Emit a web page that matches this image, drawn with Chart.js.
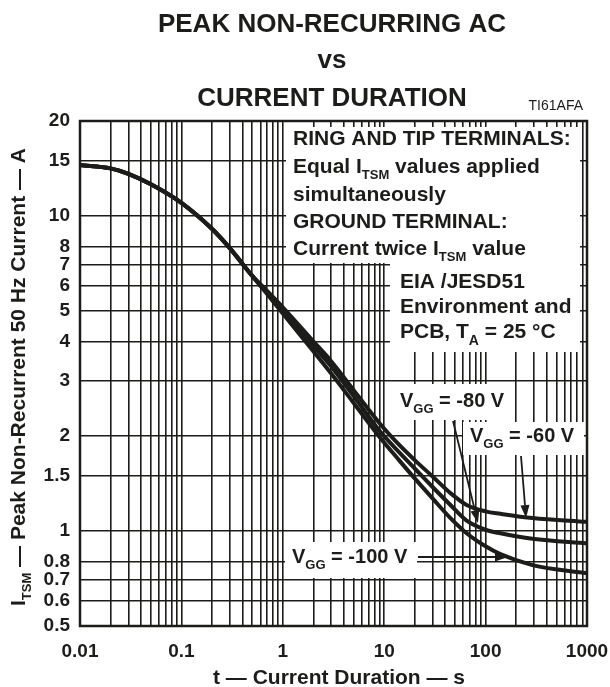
<!DOCTYPE html>
<html><head><meta charset="utf-8">
<script src="https://cdn.jsdelivr.net/npm/chart.js@4"></script>
<style>html,body{margin:0;padding:0;background:#fff}#c{display:block}</style>
</head><body>
<canvas id="c" width="610" height="687"></canvas>
<script>
// ---- data ----
const durations = [0.01,0.02,0.03,0.05,0.1,0.2,0.3,0.5,0.7,1,2,3,5,9,14,20,30,45,65,100,140,290,1000];
const vgg60  = [14.5,14.15,13.6,12.6,11.0,9.1,7.9,6.45,5.78,5.13,4.00,3.46,2.80,2.20,1.88,1.68,1.49,1.32,1.21,1.155,1.135,1.10,1.07];
const vgg80  = [14.5,14.15,13.6,12.6,11.0,9.1,7.9,6.45,5.72,5.02,3.87,3.33,2.68,2.08,1.78,1.58,1.38,1.21,1.08,1.01,0.984,0.945,0.914];
const vgg100 = [14.5,14.15,13.6,12.6,11.0,9.1,7.9,6.45,5.65,4.90,3.72,3.16,2.55,1.99,1.68,1.47,1.27,1.10,0.985,0.895,0.845,0.78,0.735];
const xLabelValues = [0.01,0.1,1,10,100,1000];
const xLabelTexts  = ['0.01','0.1','1','10','100','1000'];
const yTickValues  = [0.5,0.6,0.7,0.8,1,1.5,2,3,4,5,6,7,8,10,15,20];
const yTickTexts   = ['0.5','0.6','0.7','0.8','1','1.5','2','3','4','5','6','7','8','10','15','20'];

// grid positions for the x axis: 1..9 in every decade
const xGridValues = [];
[0.01,0.1,1,10,100].forEach(d => { for (let k = 1; k <= 9; k++) xGridValues.push(+(d*k).toPrecision(3)); });
xGridValues.push(1000);

const FONT = '"Liberation Sans", Arial, Helvetica, sans-serif';
const INK = '#1c1c1a';

function labelFrom(vals, texts, v) {
  for (let i = 0; i < vals.length; i++) if (Math.abs(vals[i] - v) / vals[i] < 1e-6) return texts[i];
  return '';
}

function rich(ctx, parts, x, y, size, subSize, subDy, align) {
  let w = 0;
  parts.forEach(p => { ctx.font = `bold ${p[1] ? subSize : size}px ${FONT}`; w += ctx.measureText(p[0]).width; });
  let cx = align === 'center' ? x - w / 2 : x;
  parts.forEach(p => {
    ctx.font = `bold ${p[1] ? subSize : size}px ${FONT}`;
    ctx.fillText(p[0], cx, y + (p[1] ? subDy : 0));
    cx += ctx.measureText(p[0]).width;
  });
}

function arrow(ctx, x1, y1, x2, y2) {
  const a = Math.atan2(y2 - y1, x2 - x1), L = 13, H = 4.5;
  const bx = x2 - L * Math.cos(a), by = y2 - L * Math.sin(a);
  ctx.beginPath(); ctx.moveTo(x1, y1); ctx.lineTo(bx, by);
  ctx.lineWidth = 1.8; ctx.strokeStyle = INK; ctx.stroke();
  ctx.beginPath();
  ctx.moveTo(x2, y2);
  ctx.lineTo(bx + H * Math.sin(a), by - H * Math.cos(a));
  ctx.lineTo(bx - H * Math.sin(a), by + H * Math.cos(a));
  ctx.closePath(); ctx.fillStyle = INK; ctx.fill();
}

const decor = {
  id: 'decor',
  beforeDatasetsDraw(chart) {
    const ctx = chart.ctx, a = chart.chartArea;
    ctx.save();
    ctx.fillStyle = '#fff';
    ctx.fillRect(286, 127, 294, 136);   // terminals note
    ctx.fillRect(390, 263, 190, 89);    // EIA note
    ctx.fillRect(395, 384, 118, 36);    // -80 V label
    ctx.fillRect(463, 422, 121, 33);    // -60 V label
    ctx.fillRect(285, 542, 132, 36);    // -100 V label
    ctx.lineWidth = 2.5; ctx.strokeStyle = INK;
    ctx.strokeRect(a.left, a.top, a.right - a.left, a.bottom - a.top);
    ctx.restore();
  },
  afterDatasetsDraw(chart) {
    const ctx = chart.ctx;
    ctx.save();
    ctx.fillStyle = INK; ctx.textBaseline = 'alphabetic';
    // titles
    ctx.textAlign = 'center';
    ctx.font = `bold 26px ${FONT}`;
    ctx.fillText('PEAK NON-RECURRING AC', 332, 32);
    ctx.fillText('vs', 332, 68);
    ctx.fillText('CURRENT DURATION', 332, 106);
    ctx.textAlign = 'right';
    ctx.font = `14px ${FONT}`;
    ctx.fillText('TI61AFA', 583, 110);
    ctx.textAlign = 'left';
    // notes
    const s = 21, ss = 13;
    rich(ctx, [['RING AND TIP TERMINALS:']], 293, 145, s, ss, 6);
    rich(ctx, [['Equal I'], ['TSM', 1], [' values applied']], 293, 173, s, ss, 6);
    rich(ctx, [['simultaneously']], 293, 201, s, ss, 6);
    rich(ctx, [['GROUND TERMINAL:']], 293, 228, s, ss, 6);
    rich(ctx, [['Current twice I'], ['TSM', 1], [' value']], 293, 255, s, ss, 6);
    rich(ctx, [['EIA /JESD51']], 400, 288, s, ss, 6);
    rich(ctx, [['Environment and']], 400, 313, s, ss, 6);
    rich(ctx, [['PCB, T'], ['A', 1], [' = 25 \u00B0C']], 400, 338, s, 14, 7);
    // curve labels
    rich(ctx, [['V'], ['GG', 1], [' = -80 V']], 400, 407, 20, 13, 6);
    rich(ctx, [['V'], ['GG', 1], [' = -60 V']], 470, 442, 20, 13, 6);
    rich(ctx, [['V'], ['GG', 1], [' = -100 V']], 292, 563, 20, 13, 6);
    arrow(ctx, 453, 421, 478, 523);
    arrow(ctx, 521, 456, 526, 518);
    arrow(ctx, 418, 557, 508, 557);
    // axis titles
    ctx.fillStyle = INK;
    rich(ctx, [['t \u2014 Current Duration \u2014 s']], 339, 684, 21, 13, 6, 'center');
    ctx.save();
    ctx.translate(25, 377);
    ctx.rotate(-Math.PI / 2);
    rich(ctx, [['I'], ['TSM', 1], [' \u2014 Peak Non-Recurrent 50 Hz Current \u2014 A']], 0, 0, 21, 13, 6, 'center');
    ctx.restore();
    ctx.restore();
  }
};

const mk = (vals) => durations.map((t, i) => ({ x: t, y: vals[i] }));
const lineStyle = { borderColor: INK, borderWidth: 4, pointRadius: 0, fill: false, cubicInterpolationMode: 'monotone' };

new Chart(document.getElementById('c'), {
  type: 'line',
  data: {
    datasets: [
      Object.assign({ label: 'VGG = -60 V', data: mk(vgg60) }, lineStyle),
      Object.assign({ label: 'VGG = -80 V', data: mk(vgg80) }, lineStyle),
      Object.assign({ label: 'VGG = -100 V', data: mk(vgg100) }, lineStyle)
    ]
  },
  options: {
    responsive: false, animation: false, devicePixelRatio: 1,
    layout: { padding: { left: 0, right: 23, top: 121, bottom: 0 } },
    plugins: { legend: { display: false }, tooltip: { enabled: false }, title: { display: false } },
    scales: {
      x: {
        type: 'logarithmic', min: 0.01, max: 1000,
        afterBuildTicks: sc => { sc.ticks = xGridValues.map(v => ({ value: v })); },
        afterFit: sc => { sc.height = 61; sc.paddingLeft = 0; sc.paddingRight = 0; },
        ticks: {
          autoSkip: false, maxRotation: 0, minRotation: 0, padding: 14, color: INK,
          font: { family: FONT, size: 19, weight: 'bold' },
          callback: v => labelFrom(xLabelValues, xLabelTexts, v)
        },
        grid: { color: INK, lineWidth: 1.6, drawTicks: false },
        border: { display: false }
      },
      y: {
        type: 'logarithmic', min: 0.5, max: 20,
        afterBuildTicks: sc => { sc.ticks = yTickValues.map(v => ({ value: v })); },
        afterFit: sc => { sc.width = 80; sc.paddingTop = 0; sc.paddingBottom = 0; },
        ticks: {
          autoSkip: false, padding: 10, color: INK,
          font: { family: FONT, size: 19, weight: 'bold' },
          callback: v => labelFrom(yTickValues, yTickTexts, v)
        },
        grid: { color: INK, lineWidth: 1.6, drawTicks: false },
        border: { display: false }
      }
    }
  },
  plugins: [decor]
});
</script>
</body></html>
